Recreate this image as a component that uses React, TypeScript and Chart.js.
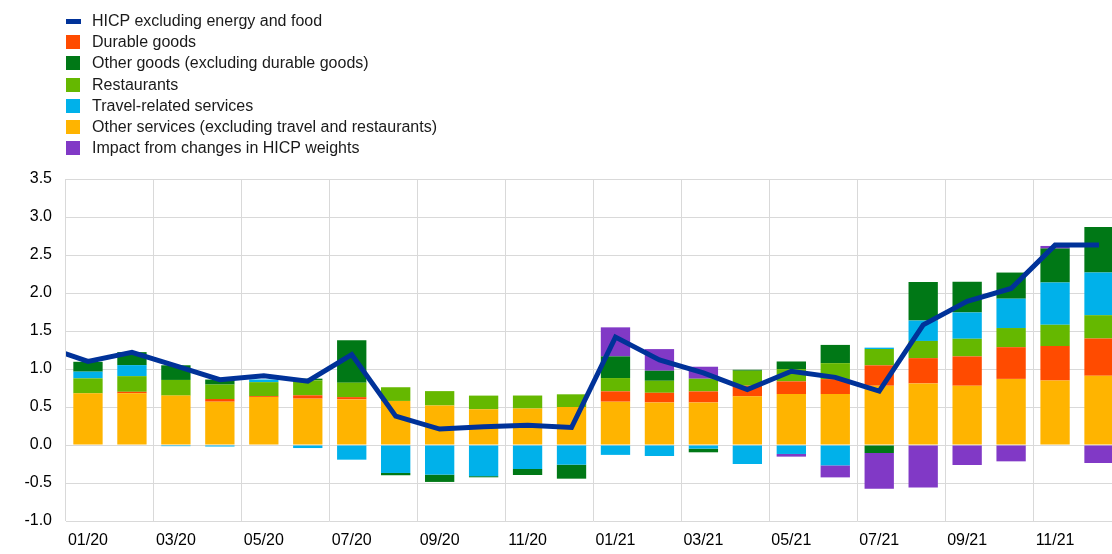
import React, { useEffect, useRef } from 'react';
import { Chart, registerables } from 'chart.js';

Chart.register(...registerables);

// Months (first one is just outside the visible range so the line enters from the left edge)
const months = [
  '12/19',
  '01/20', '02/20', '03/20', '04/20', '05/20', '06/20', '07/20', '08/20', '09/20', '10/20', '11/20', '12/20',
  '01/21', '02/21', '03/21', '04/21', '05/21', '06/21', '07/21', '08/21', '09/21', '10/21', '11/21', '12/21',
];

const hicpx = [1.3,
  1.10, 1.22, 1.04, 0.86, 0.91, 0.84, 1.19, 0.38, 0.21, 0.24, 0.26, 0.23,
  1.42, 1.12, 0.95, 0.73, 0.97, 0.89, 0.71, 1.58, 1.89, 2.06, 2.63, 2.63];

const otherServices = [null,
  0.68, 0.68, 0.65, 0.57, 0.63, 0.61, 0.60, 0.58, 0.52, 0.47, 0.48, 0.50,
  0.57, 0.56, 0.56, 0.64, 0.67, 0.67, 0.78, 0.81, 0.78, 0.87, 0.85, 0.91];

const durableGoods = [null,
  0, 0.02, 0, 0.035, 0.013, 0.044, 0.03, 0, 0, 0, 0, 0,
  0.136, 0.127, 0.145, 0.14, 0.167, 0.197, 0.268, 0.333, 0.386, 0.417, 0.452, 0.491];

const restaurants = [null,
  0.197, 0.206, 0.206, 0.19, 0.184, 0.197, 0.19, 0.18, 0.189, 0.18, 0.171, 0.167,
  0.175, 0.158, 0.167, 0.197, 0.162, 0.21, 0.215, 0.226, 0.232, 0.252, 0.28, 0.307];

const travelServices = [null,
  0.088, 0.145, -0.015, -0.02, 0.035, -0.04, -0.193, -0.368, -0.39, -0.41, -0.316, -0.259,
  -0.13, -0.145, -0.048, -0.25, -0.118, -0.268, 0.018, 0.268, 0.346, 0.386, 0.557, 0.563];

const otherGoods = [null,
  0.13, 0.171, 0.193, 0.066, 0, 0.022, 0.557, -0.03, -0.096, -0.015, -0.079, -0.184,
  0.285, 0.132, -0.048, 0.013, 0.10, 0.24, -0.105, 0.509, 0.404, 0.344, 0.445, 0.596];

const weightsImpact = [null,
  null, null, null, null, null, null, null, null, null, null, null, null,
  0.382, 0.285, 0.158, 0, -0.035, -0.158, -0.47, -0.56, -0.263, -0.215, 0.035, -0.237];

const BLUE = '#003299';
const YELLOW = '#FFB400';
const RED = '#FF4B00';
const LTGREEN = '#65B800';
const CYAN = '#00B1EA';
const DKGREEN = '#007816';
const PURPLE = '#8139C6';
const GRID = '#d9d9d9';
const FONT = 'Arial, "Liberation Sans", Helvetica, sans-serif';

const legendItems = [
  { label: 'HICP excluding energy and food', color: BLUE, line: true },
  { label: 'Durable goods', color: RED },
  { label: 'Other goods (excluding durable goods)', color: DKGREEN },
  { label: 'Restaurants', color: LTGREEN },
  { label: 'Travel-related services', color: CYAN },
  { label: 'Other services (excluding travel and restaurants)', color: YELLOW },
  { label: 'Impact from changes in HICP weights', color: PURPLE },
];

export default function App() {
  const ref = useRef<HTMLCanvasElement>(null);

  useEffect(() => {
    if (!ref.current) return;
    const bar = (label: string, data: (number | null)[], color: string) => ({
      type: 'bar' as const,
      label,
      data,
      backgroundColor: color,
      borderWidth: 0,
    });
    const chart = new Chart(ref.current, {
      type: 'bar',
      data: {
        labels: months,
        datasets: [
          {
            type: 'line',
            label: 'HICP excluding energy and food',
            data: hicpx,
            borderColor: BLUE,
            backgroundColor: BLUE,
            borderWidth: 5,
            pointRadius: 0,
            tension: 0,
            fill: false,
          } as any,
          bar('Other services (excluding travel and restaurants)', otherServices, YELLOW),
          bar('Durable goods', durableGoods, RED),
          bar('Restaurants', restaurants, LTGREEN),
          bar('Travel-related services', travelServices, CYAN),
          bar('Other goods (excluding durable goods)', otherGoods, DKGREEN),
          bar('Impact from changes in HICP weights', weightsImpact, PURPLE),
        ],
      },
      options: {
        responsive: false,
        animation: false,
        layout: { padding: { top: 179, right: 4, left: 0, bottom: 0 } },
        plugins: { legend: { display: false }, tooltip: { enabled: false } },
        datasets: { bar: { barPercentage: 0.667, categoryPercentage: 1 } },
        scales: {
          x: {
            stacked: true,
            min: '01/20',
            offset: true,
            grid: {
              offset: true,
              drawTicks: false,
              lineWidth: 1,
              color: (ctx: any) => (ctx.index % 2 === 0 ? GRID : 'rgba(0,0,0,0)'),
            },
            border: { display: false },
            ticks: {
              autoSkip: false,
              maxRotation: 0,
              minRotation: 0,
              padding: 10,
              color: '#000',
              font: { size: 16, family: FONT },
              callback: function (this: any, value: any, index: number) {
                return index % 2 === 0 ? this.getLabelForValue(value) : '';
              },
            },
            afterFit: (s: any) => { s.height = 33; },
          },
          y: {
            stacked: true,
            min: -1,
            max: 3.5,
            grid: { color: GRID, drawTicks: false, lineWidth: 1 },
            border: { display: false },
            ticks: {
              stepSize: 0.5,
              padding: 14,
              color: '#000',
              font: { size: 16, family: FONT },
              callback: (v: any) => Number(v).toFixed(1),
            },
            afterFit: (s: any) => { s.width = 66; },
          },
        },
      } as any,
    });
    return () => chart.destroy();
  }, []);

  return (
    <div
      style={{
        position: 'absolute',
        left: 0,
        top: 0,
        width: 1112,
        height: 554,
        overflow: 'hidden',
        background: '#fff',
        fontFamily: FONT,
      }}
    >
      <canvas ref={ref} width={1125} height={554} style={{ position: 'absolute', left: 0, top: 0, display: 'block' }} />
      {legendItems.map((it, i) => {
        const cy = 21 + i * 21.2;
        return (
          <div key={it.label} style={{ position: 'absolute', left: 0, top: cy - 10, height: 20, width: 600 }}>
            <div
              style={{
                position: 'absolute',
                left: 66,
                top: it.line ? 8 : 3,
                width: it.line ? 15 : 14,
                height: it.line ? 5 : 14,
                background: it.color,
              }}
            />
            <div
              style={{
                position: 'absolute',
                left: 92,
                top: 0,
                height: 20,
                lineHeight: '20px',
                fontSize: 16,
                color: '#1a1a1a',
                whiteSpace: 'nowrap',
              }}
            >
              {it.label}
            </div>
          </div>
        );
      })}
    </div>
  );
}
